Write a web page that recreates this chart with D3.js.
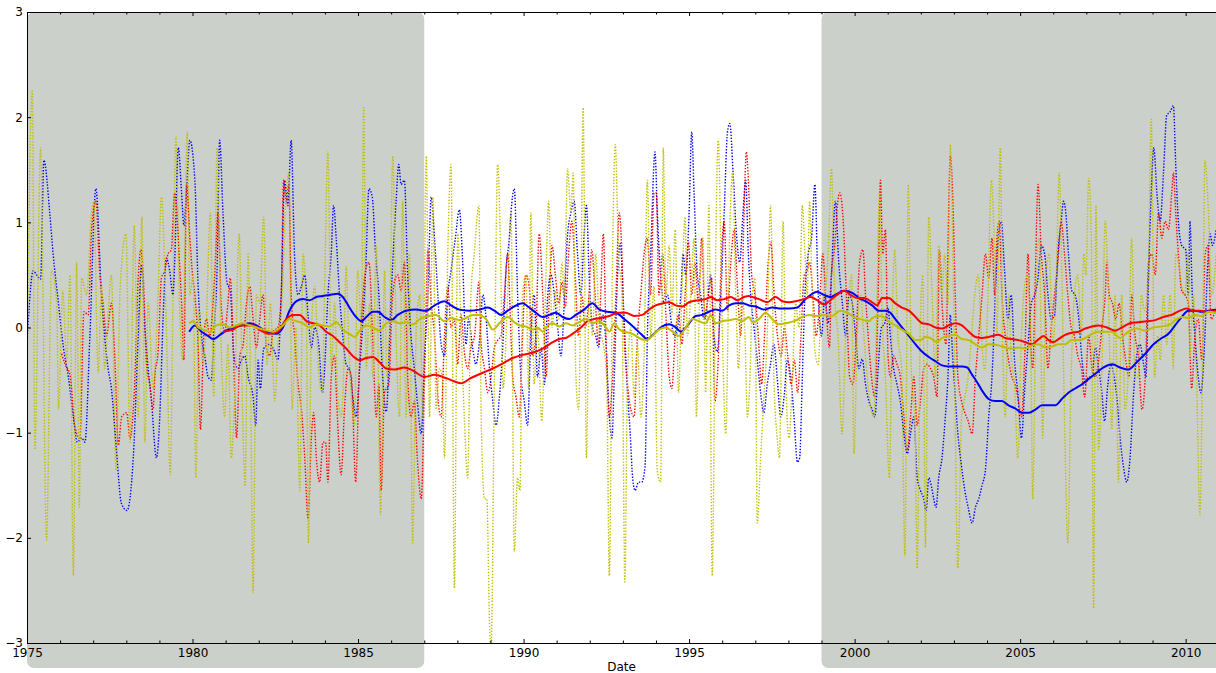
<!DOCTYPE html>
<html>
<head>
<meta charset="utf-8">
<script src="https://cdn.jsdelivr.net/npm/d3@7"></script>
<style>
  body { margin: 0; background: #fff; }
  text { font-family: "DejaVu Sans", sans-serif; }
</style>
</head>
<body>
<div id="chart"></div>
<script>
// monthly anomalies (dotted) as [decimal year, value]
const blueRaw = [[1975.00,-0.15],[1975.19,0.54],[1975.29,0.50],[1975.41,0.46],[1975.51,1.59],[1975.69,1.08],[1975.79,0.70],[1975.95,0.23],[1976.10,-0.19],[1976.25,-0.47],[1976.40,-0.85],[1976.52,-1.09],[1976.65,-1.05],[1976.75,-1.09],[1976.90,-0.08],[1977.08,1.32],[1977.25,0.31],[1977.45,-0.39],[1977.55,-0.58],[1977.70,-1.16],[1977.85,-1.67],[1978.02,-1.74],[1978.21,-1.24],[1978.36,-0.08],[1978.46,0.60],[1978.56,0.00],[1978.66,-0.39],[1978.76,-0.70],[1978.91,-1.24],[1979.01,-0.85],[1979.11,0.08],[1979.21,0.66],[1979.31,0.54],[1979.41,0.31],[1979.46,0.62],[1979.57,1.71],[1979.67,1.28],[1979.74,0.97],[1979.82,1.32],[1979.92,1.78],[1980.07,1.40],[1980.17,0.39],[1980.27,-0.08],[1980.37,-0.27],[1980.47,-0.47],[1980.57,-0.50],[1980.64,-0.08],[1980.74,0.54],[1980.82,1.78],[1980.92,1.09],[1981.04,0.43],[1981.14,0.35],[1981.25,-0.27],[1981.37,-0.39],[1981.48,-0.31],[1981.58,-0.27],[1981.68,-0.47],[1981.83,-0.66],[1981.91,-0.93],[1981.98,-0.31],[1982.05,-0.58],[1982.15,-0.20],[1982.33,-0.16],[1982.48,-0.23],[1982.58,-0.31],[1982.68,0.31],[1982.78,1.40],[1982.88,1.16],[1982.98,1.78],[1983.08,0.70],[1983.19,0.31],[1983.29,0.39],[1983.39,0.50],[1983.49,0.12],[1983.59,-0.19],[1983.69,0.00],[1983.82,-0.19],[1983.92,-0.62],[1983.99,-0.39],[1984.09,0.31],[1984.19,0.70],[1984.26,1.16],[1984.34,0.85],[1984.44,0.31],[1984.54,-0.08],[1984.64,-0.35],[1984.74,-0.39],[1984.84,-0.66],[1984.94,-0.85],[1985.05,-0.39],[1985.15,0.08],[1985.23,0.54],[1985.33,1.32],[1985.43,1.24],[1985.53,0.70],[1985.63,0.31],[1985.73,-0.39],[1985.85,-0.80],[1986.00,0.30],[1986.15,1.20],[1986.23,1.55],[1986.30,1.36],[1986.40,1.40],[1986.50,0.50],[1986.60,-0.08],[1986.70,-0.39],[1986.79,-0.70],[1986.91,-1.01],[1987.01,-0.27],[1987.11,0.31],[1987.21,1.24],[1987.31,0.85],[1987.41,0.31],[1987.51,-0.16],[1987.61,-0.27],[1987.71,0.31],[1987.81,0.54],[1987.94,0.85],[1988.06,1.12],[1988.16,0.62],[1988.26,-0.16],[1988.34,0.08],[1988.46,-0.19],[1988.56,-0.35],[1988.67,-0.12],[1988.77,0.31],[1988.87,0.08],[1988.97,-0.39],[1989.07,-0.70],[1989.17,-0.93],[1989.27,-0.66],[1989.37,-0.19],[1989.47,0.54],[1989.57,0.85],[1989.62,1.09],[1989.72,1.32],[1989.82,0.31],[1989.92,-0.47],[1990.02,-0.70],[1990.12,-0.93],[1990.22,-0.08],[1990.32,0.31],[1990.42,-0.47],[1990.53,-0.19],[1990.63,-0.54],[1990.73,0.31],[1990.83,0.50],[1990.93,0.31],[1991.03,0.00],[1991.13,-0.27],[1991.23,0.23],[1991.33,0.89],[1991.43,1.09],[1991.53,1.20],[1991.63,0.70],[1991.73,0.31],[1991.83,0.89],[1991.90,1.16],[1991.98,0.50],[1992.08,0.00],[1992.18,-0.08],[1992.26,-0.19],[1992.39,0.12],[1992.49,-0.16],[1992.59,-0.85],[1992.67,-1.05],[1992.74,-0.47],[1992.84,0.50],[1992.92,0.80],[1993.02,0.20],[1993.12,-0.50],[1993.22,-1.00],[1993.30,-1.45],[1993.37,-1.55],[1993.47,-1.47],[1993.57,-1.47],[1993.67,-1.32],[1993.74,-0.08],[1993.84,0.70],[1993.97,1.67],[1994.04,1.09],[1994.14,0.50],[1994.25,0.23],[1994.35,0.31],[1994.45,0.08],[1994.55,-0.08],[1994.65,0.00],[1994.75,0.31],[1994.82,0.70],[1994.90,0.50],[1995.00,1.09],[1995.08,1.86],[1995.15,1.28],[1995.25,0.50],[1995.35,0.31],[1995.45,0.08],[1995.55,0.23],[1995.65,0.50],[1995.75,-0.08],[1995.85,-0.23],[1995.96,0.31],[1996.06,1.09],[1996.16,1.86],[1996.23,1.94],[1996.33,1.47],[1996.43,0.89],[1996.53,0.62],[1996.63,1.10],[1996.71,1.40],[1996.79,0.70],[1996.86,0.31],[1996.96,0.00],[1997.06,-0.31],[1997.16,-0.62],[1997.26,-0.81],[1997.36,-0.54],[1997.46,-0.35],[1997.56,-0.16],[1997.66,-0.47],[1997.77,-0.85],[1997.87,-0.66],[1997.97,-0.31],[1998.07,-0.47],[1998.17,-0.85],[1998.27,-1.28],[1998.34,-1.24],[1998.42,-0.47],[1998.50,0.31],[1998.60,0.70],[1998.70,0.85],[1998.80,1.36],[1998.90,0.31],[1999.00,-0.08],[1999.10,0.31],[1999.20,0.04],[1999.30,0.50],[1999.42,1.20],[1999.52,0.62],[1999.63,0.23],[1999.73,-0.08],[1999.83,0.31],[1999.93,0.23],[2000.03,-0.08],[2000.13,-0.39],[2000.23,-0.30],[2000.33,-0.54],[2000.43,-0.70],[2000.53,-0.78],[2000.61,-0.85],[2000.71,-0.39],[2000.81,0.00],[2000.91,0.04],[2001.01,0.19],[2001.08,-0.08],[2001.18,-0.39],[2001.28,-0.54],[2001.38,-0.70],[2001.49,-1.01],[2001.59,-1.20],[2001.69,-1.01],[2001.79,-0.85],[2001.89,-1.43],[2001.99,-1.55],[2002.09,-1.63],[2002.16,-1.74],[2002.24,-1.43],[2002.32,-1.51],[2002.39,-1.63],[2002.46,-1.71],[2002.54,-1.43],[2002.64,-1.24],[2002.74,-0.85],[2002.82,-0.47],[2002.89,0.12],[2002.96,-0.27],[2003.04,-0.66],[2003.12,-1.01],[2003.23,-1.32],[2003.33,-1.55],[2003.43,-1.71],[2003.55,-1.86],[2003.65,-1.71],[2003.75,-1.63],[2003.85,-1.50],[2003.95,-1.36],[2004.05,-0.85],[2004.15,-0.47],[2004.25,0.31],[2004.35,0.89],[2004.43,1.01],[2004.53,0.54],[2004.63,0.08],[2004.73,0.31],[2004.83,-0.31],[2004.93,-0.62],[2005.04,-1.05],[2005.14,-0.58],[2005.24,-0.16],[2005.34,0.23],[2005.44,0.31],[2005.54,0.47],[2005.64,0.78],[2005.74,0.70],[2005.84,0.31],[2005.94,0.08],[2006.04,0.12],[2006.14,0.70],[2006.24,1.01],[2006.31,1.20],[2006.38,1.09],[2006.46,0.70],[2006.56,0.35],[2006.66,0.31],[2006.76,0.12],[2006.87,-0.31],[2006.97,-0.54],[2007.07,-0.47],[2007.17,-0.47],[2007.27,-0.19],[2007.37,-0.39],[2007.47,-0.62],[2007.55,-0.89],[2007.65,-0.54],[2007.74,-0.35],[2007.82,-0.43],[2007.92,-0.66],[2008.02,-1.05],[2008.12,-1.32],[2008.22,-1.47],[2008.32,-1.24],[2008.42,-0.66],[2008.52,-0.27],[2008.62,-0.16],[2008.73,-0.35],[2008.80,-0.47],[2008.88,0.50],[2008.96,1.28],[2009.04,1.71],[2009.13,1.28],[2009.23,1.01],[2009.33,1.47],[2009.43,2.02],[2009.53,2.05],[2009.63,2.11],[2009.70,1.55],[2009.78,1.01],[2009.88,0.78],[2010.00,0.74],[2010.08,0.31],[2010.13,1.01],[2010.20,0.31],[2010.28,-0.08],[2010.38,-0.47],[2010.46,-0.62],[2010.57,-0.16],[2010.67,0.62],[2010.74,0.89],[2010.81,0.78],[2010.92,0.93]];

const redRaw = [[1976.05,-0.25],[1976.15,-0.35],[1976.30,-0.45],[1976.45,-0.95],[1976.60,-1.05],[1976.72,0.15],[1976.85,0.12],[1976.95,0.93],[1977.08,1.20],[1977.20,0.50],[1977.30,0.23],[1977.40,-0.08],[1977.55,0.23],[1977.66,-0.35],[1977.76,-1.12],[1977.86,-0.85],[1978.01,-0.81],[1978.11,-1.05],[1978.26,-0.47],[1978.36,0.47],[1978.44,0.74],[1978.51,0.50],[1978.61,-0.35],[1978.71,-0.54],[1978.81,-0.78],[1978.86,-0.47],[1978.96,-0.23],[1979.06,0.47],[1979.16,0.54],[1979.26,0.70],[1979.36,0.74],[1979.46,1.28],[1979.51,1.16],[1979.62,0.54],[1979.67,0.23],[1979.74,-0.31],[1979.82,1.36],[1979.92,0.85],[1980.00,0.50],[1980.07,0.31],[1980.17,-0.19],[1980.24,-0.97],[1980.34,-0.08],[1980.42,0.08],[1980.52,-0.08],[1980.67,0.50],[1980.77,1.09],[1980.87,0.19],[1980.97,-0.04],[1981.07,0.23],[1981.14,0.47],[1981.24,-0.27],[1981.33,-1.05],[1981.43,-0.27],[1981.53,-0.16],[1981.63,0.23],[1981.73,0.39],[1981.83,0.08],[1981.93,-0.19],[1982.03,0.08],[1982.13,0.31],[1982.23,-0.19],[1982.33,-0.27],[1982.43,-0.04],[1982.58,0.00],[1982.68,0.31],[1982.75,1.40],[1982.83,1.20],[1982.91,1.36],[1982.98,0.31],[1983.08,-0.08],[1983.19,-0.54],[1983.29,-0.78],[1983.39,-1.24],[1983.49,-1.82],[1983.59,-1.05],[1983.66,-0.81],[1983.74,-1.24],[1983.84,-1.47],[1983.94,-1.09],[1984.02,-1.09],[1984.09,-1.47],[1984.19,-0.47],[1984.29,-0.27],[1984.36,-0.74],[1984.49,-1.40],[1984.59,-0.78],[1984.70,-0.39],[1984.80,-0.47],[1984.93,-1.47],[1985.03,-0.47],[1985.15,0.31],[1985.25,0.58],[1985.33,0.62],[1985.45,-0.16],[1985.55,-0.85],[1985.63,-0.54],[1985.70,-1.55],[1985.80,-0.62],[1985.93,-0.54],[1986.03,0.23],[1986.13,0.47],[1986.20,0.50],[1986.30,0.35],[1986.40,0.62],[1986.50,-0.47],[1986.60,-0.85],[1986.70,-0.70],[1986.79,-1.24],[1986.91,-1.63],[1987.01,-0.47],[1987.11,0.74],[1987.21,0.23],[1987.31,-0.08],[1987.41,-0.66],[1987.51,-0.85],[1987.61,-0.08],[1987.71,0.39],[1987.81,0.00],[1987.91,0.08],[1988.01,-0.35],[1988.11,0.12],[1988.21,-0.23],[1988.31,-0.39],[1988.41,-0.19],[1988.52,-0.08],[1988.65,0.43],[1988.72,-0.16],[1988.82,-0.39],[1988.92,-0.62],[1989.02,-0.47],[1989.12,-0.19],[1989.22,-0.12],[1989.32,-0.08],[1989.42,0.31],[1989.52,0.70],[1989.60,0.10],[1989.67,-0.47],[1989.77,-0.66],[1989.87,-0.85],[1989.97,-0.08],[1990.07,0.50],[1990.17,0.39],[1990.27,-0.27],[1990.37,-0.08],[1990.47,0.89],[1990.58,0.31],[1990.68,-0.47],[1990.78,0.31],[1990.86,0.78],[1990.96,0.50],[1991.06,0.23],[1991.16,0.43],[1991.26,0.19],[1991.36,0.70],[1991.46,1.01],[1991.56,0.50],[1991.66,-0.08],[1991.76,0.31],[1991.86,0.00],[1991.96,0.23],[1992.06,0.74],[1992.16,0.31],[1992.26,-0.16],[1992.33,0.31],[1992.41,0.89],[1992.49,-0.08],[1992.59,-0.85],[1992.69,-0.47],[1992.79,0.31],[1992.89,1.09],[1992.97,0.70],[1993.04,-0.08],[1993.14,-0.54],[1993.24,-0.78],[1993.34,-0.85],[1993.44,-0.08],[1993.54,0.31],[1993.64,0.70],[1993.74,0.85],[1993.84,0.31],[1993.94,1.28],[1994.01,1.28],[1994.09,0.31],[1994.20,0.70],[1994.30,0.12],[1994.40,-0.47],[1994.48,-0.58],[1994.58,-0.08],[1994.68,0.12],[1994.78,-0.16],[1994.88,0.31],[1994.98,0.81],[1995.08,0.31],[1995.18,0.62],[1995.28,0.23],[1995.38,0.85],[1995.48,0.08],[1995.58,0.31],[1995.68,0.47],[1995.78,-0.70],[1995.88,-0.31],[1995.96,0.54],[1996.06,1.01],[1996.16,0.16],[1996.26,0.62],[1996.36,0.93],[1996.46,0.39],[1996.56,-0.08],[1996.66,1.09],[1996.73,1.67],[1996.79,1.40],[1996.89,0.50],[1996.99,0.31],[1997.09,-0.08],[1997.19,-0.54],[1997.29,0.00],[1997.39,0.62],[1997.47,0.81],[1997.57,0.31],[1997.67,-0.08],[1997.78,-0.27],[1997.88,0.00],[1997.98,-0.27],[1998.08,-0.54],[1998.18,-0.31],[1998.28,-0.62],[1998.38,-0.08],[1998.48,0.50],[1998.56,0.54],[1998.64,0.62],[1998.74,0.31],[1998.84,-0.08],[1998.94,0.23],[1999.04,0.70],[1999.14,0.19],[1999.24,-0.19],[1999.30,0.50],[1999.40,0.78],[1999.48,1.16],[1999.55,1.28],[1999.64,1.09],[1999.75,0.31],[1999.85,-0.47],[1999.95,-0.54],[2000.05,-0.08],[2000.15,0.62],[2000.25,0.74],[2000.33,0.30],[2000.41,-0.08],[2000.51,-0.47],[2000.61,-0.66],[2000.71,0.31],[2000.78,1.40],[2000.85,0.70],[2000.93,0.93],[2001.01,-0.27],[2001.08,-0.47],[2001.18,-0.27],[2001.28,-0.35],[2001.38,-0.47],[2001.49,-0.85],[2001.59,-1.16],[2001.69,-0.85],[2001.79,-0.47],[2001.89,-0.93],[2001.99,-0.70],[2002.09,-0.39],[2002.19,-0.35],[2002.29,-0.39],[2002.39,-0.47],[2002.49,-0.66],[2002.56,0.74],[2002.66,0.12],[2002.76,-0.16],[2002.84,1.09],[2002.89,1.63],[2002.96,1.28],[2003.04,0.31],[2003.12,-0.47],[2003.23,-0.70],[2003.33,-0.81],[2003.43,-0.89],[2003.55,-1.01],[2003.65,-0.47],[2003.75,-0.08],[2003.85,0.31],[2003.95,0.70],[2004.05,0.47],[2004.15,0.85],[2004.23,0.31],[2004.30,0.85],[2004.37,1.01],[2004.45,0.31],[2004.55,-0.08],[2004.65,-0.31],[2004.75,-0.47],[2004.85,-0.54],[2004.95,-0.70],[2005.04,-0.85],[2005.14,-0.27],[2005.24,0.70],[2005.31,-0.08],[2005.38,-0.39],[2005.46,0.50],[2005.54,1.36],[2005.64,0.70],[2005.74,0.31],[2005.84,-0.39],[2005.94,0.00],[2006.04,0.31],[2006.14,0.62],[2006.24,1.01],[2006.34,0.70],[2006.44,0.31],[2006.54,0.00],[2006.64,-0.08],[2006.74,-0.27],[2006.85,-0.39],[2006.95,-0.66],[2007.07,-0.08],[2007.17,-0.39],[2007.27,-0.47],[2007.37,-0.31],[2007.47,0.00],[2007.57,0.31],[2007.62,0.62],[2007.69,0.31],[2007.79,0.23],[2007.89,0.08],[2007.99,0.23],[2008.09,-0.08],[2008.19,-0.31],[2008.29,-0.47],[2008.37,0.31],[2008.47,-0.08],[2008.57,-0.27],[2008.68,-0.78],[2008.78,-0.47],[2008.88,0.62],[2008.98,0.70],[2009.08,0.50],[2009.18,1.09],[2009.28,0.85],[2009.38,1.01],[2009.48,0.93],[2009.58,1.28],[2009.63,1.47],[2009.70,1.09],[2009.78,0.70],[2009.88,0.35],[2009.98,0.31],[2010.08,0.23],[2010.18,-0.58],[2010.28,-0.08],[2010.38,0.08],[2010.49,-0.31],[2010.59,0.70],[2010.67,0.78],[2010.77,0.08],[2010.92,0.19]];

const yellowRaw = [[1975.00,-0.35],[1975.16,2.25],[1975.24,-1.16],[1975.41,1.71],[1975.59,-2.02],[1975.74,0.54],[1975.90,0.23],[1975.95,-0.78],[1976.08,0.35],[1976.20,-0.31],[1976.30,0.50],[1976.40,-2.36],[1976.50,0.62],[1976.58,-1.71],[1976.65,0.47],[1976.80,0.31],[1976.95,1.09],[1977.02,1.20],[1977.15,-0.43],[1977.25,0.39],[1977.35,-0.39],[1977.45,0.12],[1977.55,0.50],[1977.69,-1.36],[1977.81,0.35],[1977.99,0.89],[1978.11,-1.09],[1978.24,0.97],[1978.36,-0.85],[1978.47,1.05],[1978.56,-1.09],[1978.66,0.23],[1978.81,-0.58],[1978.96,0.31],[1979.06,1.24],[1979.21,0.00],[1979.33,-1.40],[1979.41,0.31],[1979.50,1.82],[1979.60,0.31],[1979.70,-0.31],[1979.84,1.86],[1979.92,0.31],[1980.02,0.50],[1980.10,-1.43],[1980.20,0.16],[1980.30,-0.31],[1980.40,-0.08],[1980.54,1.09],[1980.64,-0.66],[1980.74,1.71],[1980.87,-0.23],[1980.97,-0.85],[1981.07,-0.16],[1981.17,-1.24],[1981.27,-0.66],[1981.41,0.89],[1981.51,-0.78],[1981.59,-1.51],[1981.68,0.70],[1981.75,-0.47],[1981.83,-2.52],[1981.93,0.31],[1982.03,0.23],[1982.15,1.05],[1982.25,-0.35],[1982.35,0.23],[1982.48,-0.70],[1982.58,-0.16],[1982.71,0.31],[1982.81,1.16],[1982.91,1.47],[1983.01,-0.78],[1983.12,0.00],[1983.24,-1.55],[1983.34,0.70],[1983.44,0.12],[1983.50,-2.05],[1983.59,-0.04],[1983.69,0.39],[1983.82,-0.47],[1983.92,-0.62],[1983.99,0.39],[1984.09,1.67],[1984.19,-0.39],[1984.29,0.23],[1984.39,-0.66],[1984.49,-0.85],[1984.56,-0.47],[1984.64,0.58],[1984.72,-0.16],[1984.79,-0.62],[1984.89,-0.93],[1984.99,0.54],[1985.10,0.00],[1985.17,2.09],[1985.25,-0.39],[1985.35,0.23],[1985.45,-0.47],[1985.55,0.78],[1985.68,-1.78],[1985.80,0.54],[1985.87,-0.47],[1985.95,-0.08],[1986.05,1.63],[1986.15,-0.08],[1986.25,-0.85],[1986.35,1.20],[1986.45,-0.85],[1986.55,0.70],[1986.65,-2.05],[1986.76,0.00],[1986.86,0.31],[1986.96,-0.85],[1987.06,1.63],[1987.16,-0.85],[1987.26,1.24],[1987.36,-0.78],[1987.46,-0.39],[1987.54,-0.47],[1987.61,-1.24],[1987.71,0.70],[1987.81,1.55],[1987.91,-2.48],[1988.01,0.89],[1988.11,0.00],[1988.21,-0.85],[1988.31,-1.43],[1988.41,0.31],[1988.51,0.70],[1988.65,1.16],[1988.72,-0.85],[1988.82,-1.63],[1988.89,-1.63],[1988.97,-2.79],[1989.02,-3.05],[1989.12,-0.47],[1989.22,1.55],[1989.30,0.80],[1989.38,-0.58],[1989.52,0.31],[1989.62,1.09],[1989.72,-2.13],[1989.82,-1.43],[1989.89,-1.55],[1989.97,0.31],[1990.07,0.50],[1990.15,-0.58],[1990.22,1.09],[1990.32,-0.54],[1990.42,0.00],[1990.55,-0.89],[1990.66,0.31],[1990.76,1.20],[1990.86,0.00],[1990.96,0.35],[1991.06,0.08],[1991.16,0.62],[1991.23,0.31],[1991.33,1.51],[1991.43,1.09],[1991.50,1.47],[1991.58,-0.47],[1991.66,-0.78],[1991.73,0.31],[1991.80,2.09],[1991.90,-1.24],[1991.98,0.31],[1992.08,-0.08],[1992.18,0.70],[1992.29,0.00],[1992.41,-0.16],[1992.51,-0.47],[1992.59,-2.36],[1992.69,0.70],[1992.77,1.74],[1992.87,0.70],[1992.97,0.31],[1993.06,-2.42],[1993.14,-0.47],[1993.24,0.00],[1993.34,-0.66],[1993.44,-0.16],[1993.54,-0.85],[1993.64,-0.27],[1993.74,1.40],[1993.84,-0.08],[1993.94,0.39],[1994.04,-1.36],[1994.14,-1.47],[1994.22,1.71],[1994.30,0.31],[1994.40,0.78],[1994.48,0.12],[1994.58,0.93],[1994.68,-0.62],[1994.78,0.31],[1994.88,1.05],[1994.95,-0.08],[1995.05,0.31],[1995.15,0.85],[1995.22,-0.85],[1995.32,0.31],[1995.42,0.85],[1995.50,-0.62],[1995.60,1.16],[1995.70,-2.36],[1995.80,0.62],[1995.88,1.78],[1996.00,0.00],[1996.11,-1.01],[1996.21,0.70],[1996.31,1.47],[1996.41,0.31],[1996.49,-0.39],[1996.59,0.31],[1996.69,-0.08],[1996.76,-0.85],[1996.84,-0.47],[1996.91,0.31],[1996.99,0.47],[1997.06,-1.86],[1997.16,-1.24],[1997.26,-0.66],[1997.36,-0.08],[1997.46,1.16],[1997.56,-0.47],[1997.66,-1.05],[1997.73,-1.24],[1997.84,1.01],[1997.92,-0.47],[1998.02,-1.05],[1998.12,-0.47],[1998.22,0.23],[1998.32,0.00],[1998.42,1.16],[1998.50,0.70],[1998.57,0.31],[1998.64,1.20],[1998.72,0.31],[1998.82,-0.27],[1998.90,-0.35],[1999.00,0.23],[1999.10,0.31],[1999.20,0.70],[1999.30,1.51],[1999.40,0.31],[1999.50,-0.08],[1999.62,-1.01],[1999.73,-0.08],[1999.83,0.31],[1999.91,0.50],[1999.98,-1.20],[2000.08,-0.08],[2000.18,0.31],[2000.28,-0.08],[2000.38,-0.47],[2000.58,-0.85],[2000.68,0.31],[2000.75,1.28],[2000.83,0.12],[2000.93,-0.47],[2001.05,-1.43],[2001.13,0.00],[2001.21,0.74],[2001.31,-0.08],[2001.42,-0.39],[2001.52,-2.17],[2001.62,1.36],[2001.72,-0.47],[2001.82,-0.85],[2001.89,-2.29],[2001.99,0.12],[2002.06,0.50],[2002.14,-2.09],[2002.24,1.05],[2002.34,0.31],[2002.44,-0.47],[2002.54,0.78],[2002.64,0.31],[2002.72,0.70],[2002.82,0.23],[2002.89,1.74],[2002.99,0.31],[2003.12,-2.29],[2003.23,-0.85],[2003.33,-0.66],[2003.43,-0.47],[2003.53,-0.08],[2003.63,0.31],[2003.73,0.50],[2003.83,-0.08],[2003.93,-0.40],[2004.03,0.31],[2004.13,1.40],[2004.23,0.70],[2004.30,-0.08],[2004.40,1.71],[2004.47,-0.08],[2004.55,-0.85],[2004.65,0.31],[2004.73,-0.27],[2004.83,-0.54],[2004.93,-1.24],[2005.04,-0.08],[2005.11,0.31],[2005.21,0.50],[2005.31,0.12],[2005.38,-1.63],[2005.48,0.31],[2005.58,0.85],[2005.68,-1.05],[2005.78,0.50],[2005.88,0.70],[2005.98,-0.16],[2006.08,0.31],[2006.18,1.47],[2006.26,0.50],[2006.34,-0.85],[2006.44,-2.05],[2006.54,-0.47],[2006.64,0.31],[2006.74,0.50],[2006.85,-0.08],[2006.92,0.70],[2006.99,0.50],[2007.07,1.42],[2007.15,0.85],[2007.22,-2.67],[2007.29,1.16],[2007.37,-1.16],[2007.47,-0.39],[2007.57,1.01],[2007.67,0.23],[2007.77,-0.97],[2007.87,0.31],[2007.97,-1.47],[2008.07,0.31],[2008.17,-0.78],[2008.27,-0.39],[2008.37,0.85],[2008.47,-0.47],[2008.57,-0.47],[2008.66,0.31],[2008.76,0.16],[2008.86,0.31],[2008.96,1.98],[2009.06,-0.47],[2009.16,-0.08],[2009.23,-0.31],[2009.33,0.31],[2009.43,-0.16],[2009.53,0.31],[2009.63,-0.39],[2009.70,0.70],[2009.78,0.62],[2009.88,0.39],[2009.98,0.31],[2010.06,0.70],[2010.13,-0.27],[2010.23,0.31],[2010.33,-0.47],[2010.43,-1.78],[2010.53,0.31],[2010.58,1.59],[2010.69,1.09],[2010.79,0.31],[2010.92,0.70]];

// 60-month rolling means (solid)
const blueMean = [[1979.90,-0.04],[1980.07,0.02],[1980.27,-0.04],[1980.47,-0.08],[1980.62,-0.11],[1980.87,-0.06],[1981.07,-0.02],[1981.27,0.00],[1981.48,0.02],[1981.73,0.04],[1981.93,0.02],[1982.13,-0.02],[1982.33,-0.05],[1982.53,-0.06],[1982.73,0.00],[1982.93,0.16],[1983.14,0.25],[1983.34,0.27],[1983.54,0.26],[1983.74,0.29],[1983.94,0.30],[1984.14,0.31],[1984.39,0.32],[1984.54,0.29],[1984.74,0.19],[1984.94,0.10],[1985.10,0.06],[1985.25,0.10],[1985.45,0.15],[1985.60,0.15],[1985.80,0.10],[1986.00,0.07],[1986.20,0.12],[1986.45,0.16],[1986.75,0.17],[1987.06,0.16],[1987.31,0.21],[1987.61,0.25],[1987.81,0.21],[1988.06,0.17],[1988.36,0.16],[1988.67,0.17],[1988.92,0.19],[1989.12,0.16],[1989.32,0.12],[1989.52,0.16],[1989.72,0.20],[1989.97,0.23],[1990.17,0.19],[1990.37,0.14],[1990.58,0.10],[1990.78,0.12],[1990.98,0.14],[1991.18,0.10],[1991.38,0.08],[1991.58,0.12],[1991.83,0.17],[1992.08,0.23],[1992.29,0.17],[1992.54,0.15],[1992.79,0.14],[1993.04,0.08],[1993.34,0.00],[1993.54,-0.06],[1993.74,-0.11],[1993.94,-0.06],[1994.14,0.00],[1994.40,0.03],[1994.60,0.00],[1994.75,-0.04],[1994.95,0.02],[1995.20,0.11],[1995.40,0.12],[1995.60,0.15],[1995.80,0.17],[1996.00,0.16],[1996.21,0.21],[1996.41,0.23],[1996.61,0.23],[1996.81,0.21],[1997.01,0.20],[1997.26,0.17],[1997.51,0.19],[1997.77,0.18],[1998.02,0.18],[1998.27,0.19],[1998.52,0.27],[1998.77,0.33],[1998.87,0.34],[1999.07,0.31],[1999.27,0.29],[1999.47,0.32],[1999.68,0.35],[1999.93,0.33],[2000.13,0.28],[2000.33,0.25],[2000.53,0.21],[2000.73,0.16],[2000.93,0.16],[2001.08,0.14],[2001.23,0.08],[2001.43,0.00],[2001.64,-0.08],[2001.84,-0.16],[2002.04,-0.23],[2002.24,-0.28],[2002.44,-0.32],[2002.64,-0.36],[2002.84,-0.37],[2003.04,-0.37],[2003.24,-0.37],[2003.40,-0.38],[2003.55,-0.45],[2003.70,-0.52],[2003.85,-0.60],[2004.05,-0.68],[2004.25,-0.70],[2004.45,-0.70],[2004.65,-0.74],[2004.85,-0.77],[2005.06,-0.81],[2005.26,-0.81],[2005.46,-0.78],[2005.66,-0.74],[2005.86,-0.74],[2006.06,-0.74],[2006.26,-0.68],[2006.46,-0.62],[2006.66,-0.58],[2006.87,-0.54],[2007.07,-0.49],[2007.27,-0.44],[2007.52,-0.38],[2007.79,-0.35],[2008.02,-0.38],[2008.27,-0.40],[2008.52,-0.33],[2008.78,-0.25],[2009.03,-0.16],[2009.28,-0.10],[2009.48,-0.06],[2009.68,0.02],[2009.88,0.10],[2010.08,0.16],[2010.28,0.16],[2010.49,0.15],[2010.69,0.16],[2010.92,0.17]];

const redMean = [[1980.92,-0.04],[1981.22,-0.02],[1981.42,0.02],[1981.62,0.02],[1981.82,0.02],[1982.02,-0.02],[1982.33,-0.06],[1982.58,-0.04],[1982.83,0.08],[1983.03,0.12],[1983.24,0.12],[1983.44,0.06],[1983.64,0.04],[1983.84,0.02],[1984.04,-0.04],[1984.24,-0.08],[1984.44,-0.14],[1984.64,-0.20],[1984.84,-0.27],[1985.05,-0.31],[1985.25,-0.29],[1985.45,-0.28],[1985.65,-0.33],[1985.85,-0.39],[1986.10,-0.40],[1986.40,-0.38],[1986.66,-0.41],[1987.01,-0.47],[1987.31,-0.45],[1987.56,-0.47],[1987.81,-0.50],[1988.11,-0.53],[1988.41,-0.48],[1988.77,-0.43],[1989.07,-0.39],[1989.32,-0.35],[1989.67,-0.29],[1989.97,-0.26],[1990.27,-0.24],[1990.58,-0.20],[1990.88,-0.14],[1991.08,-0.11],[1991.28,-0.10],[1991.48,-0.06],[1991.73,0.00],[1991.93,0.06],[1992.13,0.08],[1992.33,0.09],[1992.59,0.11],[1992.84,0.14],[1993.09,0.14],[1993.34,0.11],[1993.59,0.12],[1993.79,0.17],[1993.99,0.21],[1994.20,0.23],[1994.40,0.24],[1994.60,0.21],[1994.80,0.20],[1995.00,0.24],[1995.30,0.26],[1995.50,0.27],[1995.65,0.29],[1995.85,0.26],[1996.06,0.27],[1996.26,0.29],[1996.46,0.26],[1996.66,0.29],[1996.81,0.30],[1996.91,0.29],[1997.11,0.27],[1997.36,0.24],[1997.61,0.29],[1997.82,0.25],[1998.02,0.24],[1998.22,0.25],[1998.47,0.27],[1998.67,0.29],[1998.87,0.26],[1999.07,0.22],[1999.27,0.26],[1999.47,0.31],[1999.68,0.35],[1999.88,0.31],[2000.08,0.28],[2000.28,0.28],[2000.53,0.24],[2000.68,0.21],[2000.83,0.28],[2001.03,0.28],[2001.23,0.23],[2001.43,0.19],[2001.64,0.16],[2001.84,0.10],[2002.04,0.04],[2002.24,0.03],[2002.44,0.00],[2002.64,-0.01],[2002.84,0.02],[2003.04,0.04],[2003.24,0.02],[2003.45,-0.04],[2003.65,-0.09],[2003.85,-0.10],[2004.05,-0.09],[2004.35,-0.07],[2004.55,-0.10],[2004.75,-0.11],[2004.95,-0.12],[2005.16,-0.14],[2005.36,-0.16],[2005.56,-0.11],[2005.71,-0.08],[2005.86,-0.12],[2006.01,-0.14],[2006.16,-0.11],[2006.36,-0.07],[2006.56,-0.05],[2006.77,-0.04],[2006.97,-0.01],[2007.17,0.01],[2007.37,0.02],[2007.62,0.00],[2007.87,-0.03],[2008.07,0.00],[2008.32,0.04],[2008.57,0.05],[2008.83,0.06],[2009.08,0.07],[2009.33,0.10],[2009.58,0.12],[2009.83,0.16],[2010.03,0.18],[2010.23,0.16],[2010.44,0.16],[2010.64,0.15],[2010.92,0.16]];

const yellowMean = [[1979.90,0.04],[1980.02,0.06],[1980.17,0.00],[1980.32,-0.02],[1980.52,-0.04],[1980.72,0.02],[1980.92,0.03],[1981.12,0.00],[1981.32,0.02],[1981.52,0.04],[1981.73,0.02],[1981.93,0.00],[1982.13,-0.02],[1982.43,-0.04],[1982.73,0.02],[1982.93,0.08],[1983.14,0.06],[1983.34,0.04],[1983.54,0.00],[1983.74,0.03],[1983.94,0.02],[1984.14,0.01],[1984.34,0.05],[1984.54,-0.02],[1984.74,-0.06],[1984.90,-0.09],[1985.05,-0.03],[1985.25,0.02],[1985.45,0.00],[1985.65,-0.03],[1985.85,0.04],[1986.05,0.06],[1986.25,0.04],[1986.45,0.05],[1986.66,0.03],[1986.86,0.08],[1987.11,0.11],[1987.36,0.12],[1987.61,0.06],[1987.81,0.09],[1988.06,0.07],[1988.26,0.09],[1988.46,0.12],[1988.67,0.12],[1988.87,0.08],[1989.07,-0.02],[1989.27,0.04],[1989.52,0.10],[1989.72,0.05],[1989.87,0.02],[1990.07,0.01],[1990.27,-0.02],[1990.42,0.00],[1990.58,-0.04],[1990.73,0.02],[1990.88,0.04],[1991.08,0.01],[1991.28,0.04],[1991.48,0.02],[1991.73,0.06],[1991.88,0.08],[1992.08,0.04],[1992.29,0.06],[1992.49,0.00],[1992.59,-0.04],[1992.74,0.04],[1992.89,-0.02],[1993.04,-0.04],[1993.29,-0.06],[1993.49,-0.10],[1993.69,-0.12],[1993.89,-0.08],[1994.09,-0.02],[1994.30,0.00],[1994.50,-0.04],[1994.70,-0.08],[1994.90,0.00],[1995.10,0.08],[1995.30,0.06],[1995.50,0.04],[1995.65,0.12],[1995.80,0.04],[1996.00,0.06],[1996.21,0.07],[1996.41,0.08],[1996.61,0.06],[1996.81,0.10],[1996.91,0.05],[1997.11,0.08],[1997.31,0.14],[1997.51,0.08],[1997.71,0.03],[1997.92,0.04],[1998.17,0.06],[1998.42,0.10],[1998.62,0.12],[1998.82,0.11],[1999.07,0.12],[1999.32,0.11],[1999.57,0.16],[1999.78,0.14],[1999.98,0.10],[2000.18,0.08],[2000.43,0.06],[2000.53,0.09],[2000.73,0.11],[2000.88,0.10],[2001.03,0.06],[2001.23,0.02],[2001.43,-0.02],[2001.64,-0.06],[2001.84,-0.12],[2001.99,-0.12],[2002.14,-0.09],[2002.29,-0.10],[2002.49,-0.14],[2002.64,-0.10],[2002.84,-0.08],[2003.04,-0.07],[2003.24,-0.11],[2003.45,-0.12],[2003.65,-0.16],[2003.85,-0.19],[2004.05,-0.16],[2004.35,-0.17],[2004.55,-0.19],[2004.75,-0.20],[2004.95,-0.19],[2005.16,-0.20],[2005.36,-0.17],[2005.56,-0.16],[2005.76,-0.19],[2005.96,-0.18],[2006.16,-0.16],[2006.36,-0.16],[2006.56,-0.12],[2006.77,-0.12],[2006.97,-0.10],[2007.17,-0.06],[2007.37,-0.04],[2007.52,-0.04],[2007.77,-0.04],[2008.02,-0.10],[2008.27,-0.04],[2008.52,-0.01],[2008.78,-0.03],[2009.03,0.00],[2009.28,0.01],[2009.53,0.03],[2009.73,0.08],[2009.88,0.10],[2010.08,0.09],[2010.28,0.12],[2010.49,0.11],[2010.69,0.15],[2010.92,0.14]];

// shaded periods
const spans = [[1975, 1987], [1999, 2010 + 11 / 12]];

const xTickYears = [1975, 1980, 1985, 1990, 1995, 2000, 2005, 2010];
const yTickValues = [-3, -2, -1, 0, 1, 2, 3];

const svgWidth = 1216;
const svgHeight = 673;
const margin = { top: 12, right: 0, bottom: 30, left: 27 };
const width = svgWidth - margin.left - margin.right;
const height = 643 - margin.top;

const svg = d3.select("#chart")
  .append("svg")
  .attr("width", svgWidth)
  .attr("height", svgHeight);

const chart = svg.append("g")
  .attr("transform", `translate(${margin.left}, ${margin.top})`);

const x = d3.scaleLinear()
  .domain([1975, 2010 + 11 / 12])
  .range([0, width]);

const y = d3.scaleLinear()
  .domain([-3, 3])
  .range([height, 0]);

// shaded spans, they run down past the axis with rounded corners
chart.selectAll(".span")
  .data(spans)
  .enter()
  .append("rect")
  .attr("class", "span")
  .attr("x", d => x(d[0]))
  .attr("y", 0)
  .attr("width", d => x(d[1]) - x(d[0]) + (d[1] > 2010 ? 12 : 0))
  .attr("height", height + 25)
  .attr("rx", 7)
  .attr("fill", "#cbd0cb");

svg.append("clipPath")
  .attr("id", "plot-clip")
  .append("rect")
  .attr("width", width)
  .attr("height", height);

const plot = chart.append("g").attr("clip-path", "url(#plot-clip)");

const rawLine = d3.line()
  .x(d => x(d[0]))
  .y(d => y(d[1]))
  .curve(d3.curveMonotoneX);

const meanLine = d3.line()
  .x(d => x(d[0]))
  .y(d => y(d[1]))
  .curve(d3.curveMonotoneX);

const rawSeries = [
  { data: blueRaw, color: "#0000ff" },
  { data: redRaw, color: "#ff0000" },
  { data: yellowRaw, color: "#bfbf00" }
];

const meanSeries = [
  { data: blueMean, color: "#0000ff" },
  { data: redMean, color: "#ff0000" },
  { data: yellowMean, color: "#bfbf00" }
];

plot.selectAll(".raw")
  .data(rawSeries)
  .enter()
  .append("path")
  .attr("class", "raw")
  .attr("d", d => rawLine(d.data))
  .attr("fill", "none")
  .attr("stroke", d => d.color)
  .attr("stroke-width", 1.4)
  .attr("stroke-dasharray", "1.4,1.6");

plot.selectAll(".mean")
  .data(meanSeries)
  .enter()
  .append("path")
  .attr("class", "mean")
  .attr("d", d => meanLine(d.data))
  .attr("fill", "none")
  .attr("stroke", d => d.color)
  .attr("stroke-width", 2)
  .attr("stroke-linejoin", "round");

// axes: ticks point inward, minor ticks every year
const minorYears = d3.range(1975, 2011).filter(v => v % 5 !== 0);

const fmtY = d => d < 0 ? "\u2212" + Math.abs(d) : String(d);

chart.append("g")
  .attr("transform", `translate(0, ${height})`)
  .call(d3.axisBottom(x).tickValues(minorYears).tickSize(-2.5).tickFormat(""));

chart.append("g")
  .attr("class", "x-axis")
  .attr("transform", `translate(0, ${height})`)
  .call(d3.axisBottom(x).tickValues(xTickYears).tickSize(-4).tickPadding(5).tickFormat(d3.format("d")));

chart.append("g")
  .call(d3.axisTop(x).tickValues(minorYears).tickSize(-2.5).tickFormat(""));

chart.append("g")
  .call(d3.axisTop(x).tickValues(xTickYears).tickSize(-4).tickFormat(""));

chart.append("g")
  .attr("class", "y-axis")
  .call(d3.axisLeft(y).tickValues(yTickValues).tickSize(-4).tickPadding(4).tickFormat(fmtY));

chart.selectAll(".domain").remove();
chart.selectAll(".tick line").attr("stroke", "#000");
chart.selectAll(".tick text")
  .attr("fill", "#000")
  .style("font-size", "12px")
  .style("font-family", "'DejaVu Sans', sans-serif");

// spines (no right spine, the picture is cut there)
chart.append("path")
  .attr("d", `M${width + 2},0.5H0.5V${height + 0.5}H${width + 2}`)
  .attr("fill", "none")
  .attr("stroke", "#000")
  .attr("stroke-width", 1);

svg.append("text")
  .attr("x", margin.left + width / 2)
  .attr("y", 671)
  .attr("text-anchor", "middle")
  .style("font-size", "12px")
  .text("Date");
</script>
</body>
</html>
